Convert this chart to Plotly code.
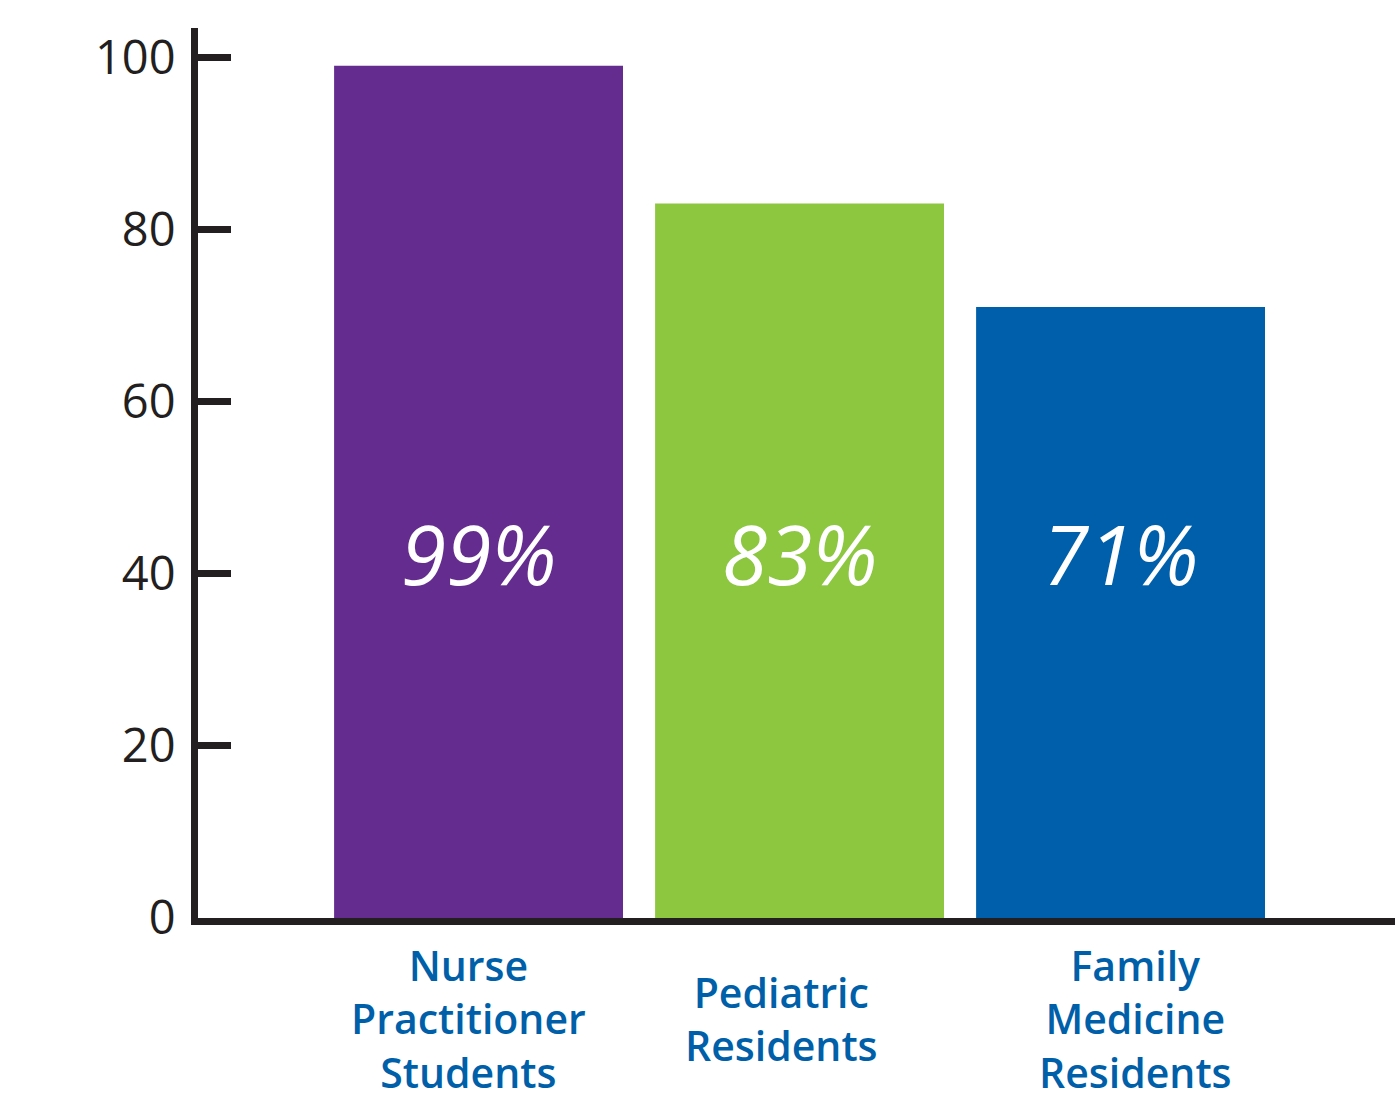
import plotly.graph_objects as go

categories = ["Nurse Practitioner Students", "Pediatric Residents", "Family Medicine Residents"]
label_text = ["Nurse<br>Practitioner<br>Students", "Pediatric<br>Residents", "Family<br>Medicine<br>Residents"]
values = [99, 83, 71]
value_labels = ["99%", "83%", "71%"]
bar_colors = ["#632c8e", "#8dc63f", "#005faa"]
tick_vals = [0, 20, 40, 60, 80, 100]

x_idx = list(range(len(categories)))

fig = go.Figure()
fig.add_trace(go.Bar(
    x=x_idx, y=values, width=0.9,
    marker=dict(color=bar_colors, line=dict(width=0)),
    hoverinfo="skip", showlegend=False,
))

annotations = []
for i, t in enumerate(value_labels):
    annotations.append(dict(
        x=i, y=42.4, xref="x", yref="y", text=t, showarrow=False,
        font=dict(family="Open Sans", size=82, color="white", style="italic", weight=500),
        xanchor="center", yanchor="middle",
    ))
label_shifts = [-10, -18, 15]
for i, t in enumerate(label_text):
    annotations.append(dict(
        x=i, y=-0.1125, xref="x", yref="paper", text=t, showarrow=False,
        font=dict(family="Open Sans", size=41, color="#005fa9", weight=600),
        xanchor="center", yanchor="middle", align="center", xshift=label_shifts[i],
    ))

fig.update_layout(
    width=1395, height=1100,
    margin=dict(l=198, r=0, t=28, b=182),
    paper_bgcolor="white", plot_bgcolor="white",
    annotations=annotations,
    xaxis=dict(
        range=[-0.874, 2.855], showticklabels=False, ticks="",
        showline=True, linewidth=7, linecolor="#231f20",
        showgrid=False, zeroline=False, fixedrange=True,
    ),
    yaxis=dict(
        range=[0, 103.4], tickvals=tick_vals,
        ticks="inside", ticklen=33, tickwidth=7, tickcolor="#231f20",
        showline=True, linewidth=7, linecolor="#231f20",
        showgrid=False, zeroline=False,
        tickfont=dict(family="Open Sans", size=47, color="#231f20"),
        ticklabelstandoff=6,
    ),
)

fig.write_html("out.html")
